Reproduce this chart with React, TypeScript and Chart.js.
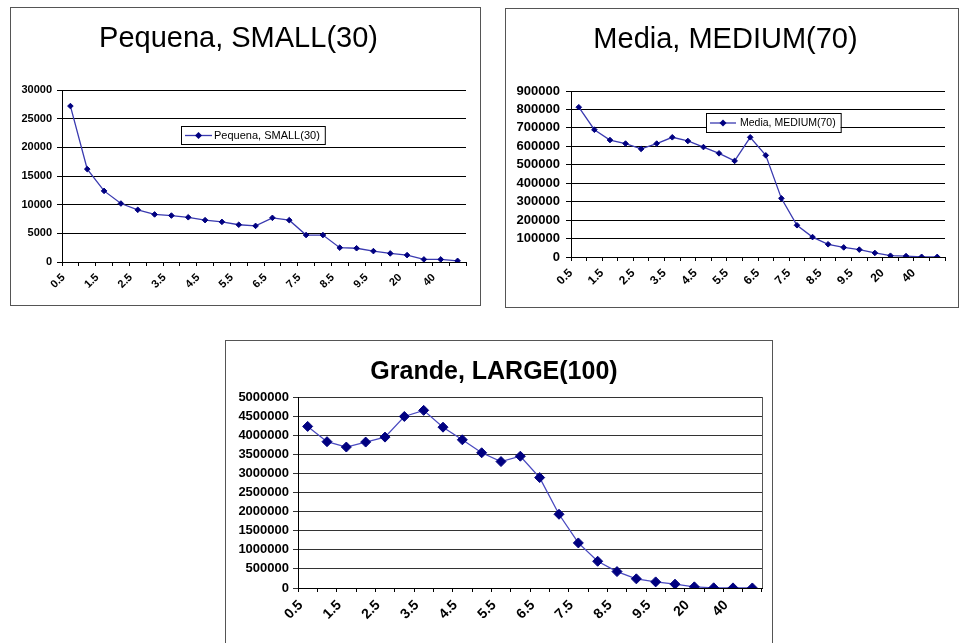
import React, { useEffect, useRef } from 'react';
import { Chart, registerables } from 'chart.js';

Chart.register(...registerables);

// ---- data ----
const categories = ['0.5', '1', '1.5', '2', '2.5', '3', '3.5', '4', '4.5', '5', '5.5', '6', '6.5', '7', '7.5', '8', '8.5', '9', '9.5', '10', '20', '30', '40', '50'];

const smallLabel = 'Pequena, SMALL(30)';
const smallValues = [27200, 16200, 12400, 10200, 9100, 8300, 8100, 7800, 7300, 7000, 6500, 6300, 7700, 7300, 4700, 4700, 2500, 2400, 1900, 1500, 1200, 450, 450, 200];

const mediumLabel = 'Media, MEDIUM(70)';
const mediumValues = [812000, 690000, 634000, 615000, 586000, 615000, 649000, 629000, 596000, 562000, 521000, 649000, 551000, 318000, 172000, 108000, 69000, 52000, 40000, 22000, 7000, 5000, 1000, 500];

const largeLabel = 'Grande, LARGE(100)';
const largeValues = [4230000, 3830000, 3690000, 3820000, 3950000, 4490000, 4650000, 4210000, 3880000, 3540000, 3310000, 3450000, 2890000, 1930000, 1180000, 700000, 430000, 240000, 160000, 100000, 30000, 5000, 3000, 1000];

const smallTicks = { max: 30000, step: 5000 };
const mediumTicks = { max: 900000, step: 100000 };
const largeTicks = { max: 5000000, step: 500000 };

const FONT = '"Liberation Sans", Arial, sans-serif';

const boxLegend = {
  id: 'boxLegend',
  afterDraw(chart: any, _args: any, opts: any) {
    if (!opts || !opts.show) return;
    const ctx = chart.ctx;
    const ds = chart.data.datasets[0];
    ctx.save();
    ctx.font = opts.font;
    const tw = ctx.measureText(ds.label).width;
    const { x, y, h, lineLen, gap } = opts;
    const w = 4 + lineLen + gap + tw + 5;
    ctx.fillStyle = '#fff';
    ctx.fillRect(x, y, w, h);
    ctx.strokeStyle = '#000';
    ctx.lineWidth = 1;
    ctx.strokeRect(x + 0.5, y + 0.5, w, h);
    const cy = y + h / 2 + 0.5;
    ctx.strokeStyle = ds.borderColor;
    ctx.lineWidth = 1.3;
    ctx.beginPath();
    ctx.moveTo(x + 4, cy);
    ctx.lineTo(x + 4 + lineLen, cy);
    ctx.stroke();
    const mx = x + 4 + lineLen / 2;
    const r = opts.r;
    ctx.fillStyle = '#000080';
    ctx.beginPath();
    ctx.moveTo(mx - r, cy);
    ctx.lineTo(mx, cy - r);
    ctx.lineTo(mx + r, cy);
    ctx.lineTo(mx, cy + r);
    ctx.closePath();
    ctx.fill();
    ctx.fillStyle = '#000';
    ctx.textBaseline = 'middle';
    ctx.textAlign = 'left';
    ctx.fillText(ds.label, x + 4 + lineLen + gap, cy);
    ctx.restore();
  },
};

const rightBorder = {
  id: 'rightBorder',
  afterDatasetsDraw(chart: any, _args: any, opts: any) {
    if (!opts || !opts.show) return;
    const { ctx, chartArea } = chart;
    ctx.save();
    ctx.strokeStyle = opts.color;
    ctx.lineWidth = 1;
    ctx.beginPath();
    const x = Math.round(chartArea.right) + 0.5;
    ctx.moveTo(x, chartArea.top);
    ctx.lineTo(x, chartArea.bottom);
    ctx.stroke();
    ctx.restore();
  },
};

Chart.register(boxLegend as any, rightBorder as any);

type Props = {
  label: string;
  values: number[];
  max: number;
  step: number;
  w: number;
  h: number;
  left: number;
  top: number;
  borderBottom: boolean;
  titleFont: any;
  titlePad: { top: number; bottom: number };
  yWidth: number;
  xHeight: number;
  padRight: number;
  yFont: any;
  yPad: number;
  xFont: any;
  xPad: number;
  xOffset: number;
  pointRadius: number;
  lineColor: string;
  gridColor: string;
  legend: any;
  plotRight: boolean;
};

function ChartBox(p: Props) {
  const ref = useRef<HTMLCanvasElement | null>(null);
  useEffect(() => {
    if (!ref.current) return;
    const chart = new Chart(ref.current, {
      type: 'line',
      data: {
        labels: categories,
        datasets: [
          {
            label: p.label,
            data: p.values,
            borderColor: p.lineColor,
            borderWidth: 1.3,
            pointStyle: 'rectRot',
            pointRadius: p.pointRadius,
            pointBackgroundColor: '#000080',
            pointBorderColor: '#000080',
            pointBorderWidth: 1,
            tension: 0,
          },
        ],
      },
      options: {
        responsive: false,
        animation: false,
        layout: { padding: { left: 0, right: p.padRight, top: 0, bottom: 0 } },
        plugins: {
          legend: { display: false },
          tooltip: { enabled: false },
          title: {
            display: true,
            text: p.label,
            color: '#000',
            font: p.titleFont,
            padding: p.titlePad,
          },
          boxLegend: p.legend,
          rightBorder: { show: p.plotRight, color: '#555' },
        } as any,
        scales: {
          x: {
            type: 'category',
            offset: true,
            grid: { offset: true, drawOnChartArea: false, drawTicks: true, tickLength: 4, color: '#000' },
            border: { display: true, color: '#000', width: 1 },
            ticks: {
              autoSkip: false,
              minRotation: 45,
              maxRotation: 45,
              padding: p.xPad,
              labelOffset: p.xOffset,
              color: '#000',
              font: p.xFont,
              callback: (_v: any, i: number) => (i % 2 === 0 ? categories[i] : ''),
            },
            afterFit: (s: any) => {
              s.height = p.xHeight;
            },
          } as any,
          y: {
            min: 0,
            max: p.max,
            ticks: {
              stepSize: p.step,
              autoSkip: false,
              color: '#000',
              font: p.yFont,
              padding: p.yPad,
              callback: (v: any) => String(v),
            },
            grid: { color: p.gridColor, tickLength: 5, drawTicks: true, lineWidth: 1 },
            border: { display: true, color: '#000', width: 1 },
            afterFit: (s: any) => {
              s.width = p.yWidth;
            },
          } as any,
        },
      },
    });
    return () => chart.destroy();
  }, []);
  return (
    <div
      style={{
        position: 'absolute',
        left: p.left,
        top: p.top,
        width: p.w,
        height: p.h,
        borderTop: '1px solid #555',
        borderLeft: '1px solid #555',
        borderRight: '1px solid #555',
        borderBottom: p.borderBottom ? '1px solid #555' : 'none',
        background: '#fff',
      }}
    >
      <canvas ref={ref} width={p.w} height={p.h} style={{ display: 'block' }} />
    </div>
  );
}

export default function App() {
  return (
    <div style={{ position: 'absolute', left: 0, top: 0, width: 960, height: 643, background: '#fff', overflow: 'hidden' }}>
      <ChartBox
        label={smallLabel}
        values={smallValues}
        max={smallTicks.max}
        step={smallTicks.step}
        left={10}
        top={7}
        w={469}
        h={297}
        borderBottom={true}
        titleFont={{ family: FONT, size: 29, weight: 'normal', lineHeight: 1.2 }}
        titlePad={{ top: 14, bottom: 33.2 }}
        yWidth={51}
        xHeight={43}
        padRight={14}
        yFont={{ family: FONT, size: 11, weight: 'bold' }}
        yPad={5}
        xFont={{ family: FONT, size: 11, weight: 'bold' }}
        xPad={5}
        xOffset={-7}
        pointRadius={2.8}
        lineColor="#3a3ab0"
        gridColor="#000"
        legend={{ show: true, x: 170, y: 118, h: 18, lineLen: 27, gap: 2, r: 3.5, font: `11px ${FONT}` }}
        plotRight={false}
      />
      <ChartBox
        label={mediumLabel}
        values={mediumValues}
        max={mediumTicks.max}
        step={mediumTicks.step}
        left={505}
        top={8}
        w={452}
        h={298}
        borderBottom={true}
        titleFont={{ family: FONT, size: 29, weight: 'normal', lineHeight: 1.2 }}
        titlePad={{ top: 14, bottom: 33.2 }}
        yWidth={65}
        xHeight={50}
        padRight={13}
        yFont={{ family: FONT, size: 13, weight: 'bold' }}
        yPad={6}
        xFont={{ family: FONT, size: 12, weight: 'bold' }}
        xPad={5}
        xOffset={-8}
        pointRadius={2.8}
        lineColor="#3a3ab0"
        gridColor="#000"
        legend={{ show: true, x: 200, y: 104, h: 19, lineLen: 26, gap: 4, r: 3.5, font: `10.5px ${FONT}` }}
        plotRight={false}
      />
      <ChartBox
        label={largeLabel}
        values={largeValues}
        max={largeTicks.max}
        step={largeTicks.step}
        left={225}
        top={340}
        w={546}
        h={303}
        borderBottom={false}
        titleFont={{ family: FONT, size: 25, weight: 'bold', lineHeight: 1.2 }}
        titlePad={{ top: 16.5, bottom: 9.5 }}
        yWidth={72}
        xHeight={56}
        padRight={10}
        yFont={{ family: FONT, size: 13, weight: 'bold' }}
        yPad={4}
        xFont={{ family: FONT, size: 14, weight: 'bold' }}
        xPad={5}
        xOffset={-7}
        pointRadius={5}
        lineColor="#4a4ac0"
        gridColor="#333"
        legend={{ show: false }}
        plotRight={true}
      />
    </div>
  );
}
